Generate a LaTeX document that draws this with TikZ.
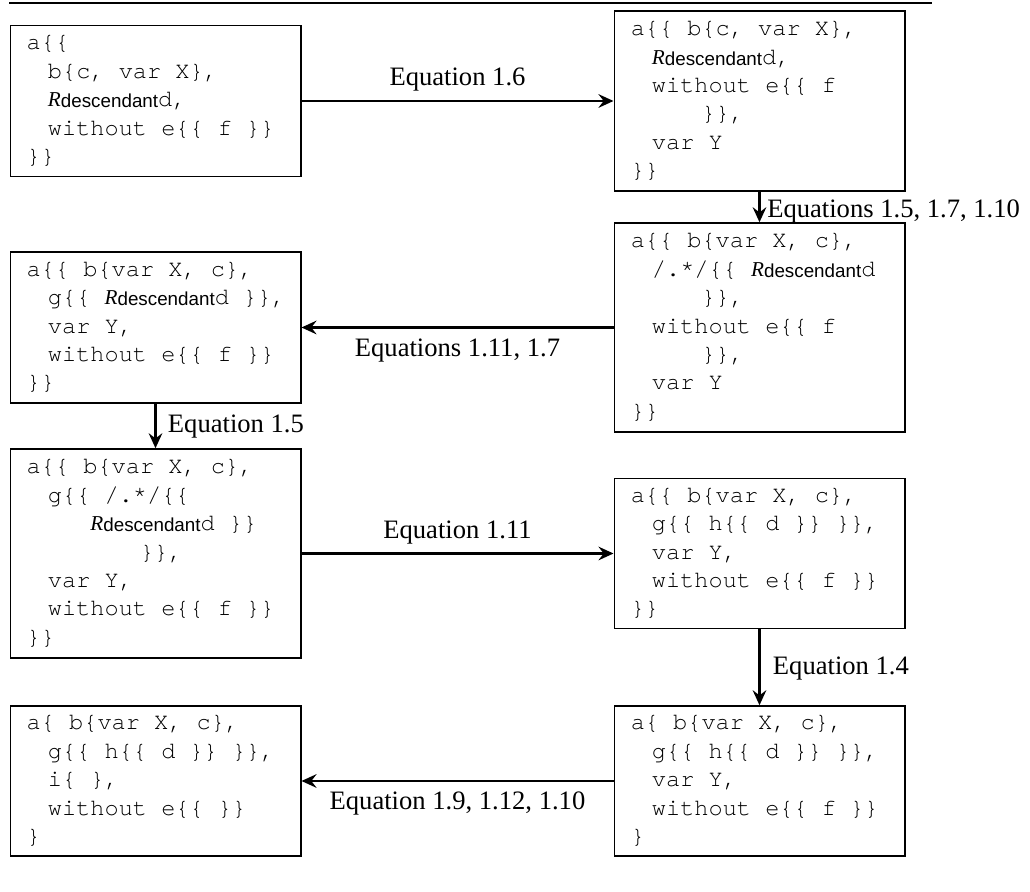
\documentclass[tikz,border=0pt]{standalone}
\usepackage{fontspec}
\setmainfont{Liberation Serif}
\setsansfont{Liberation Sans}
\newfontfamily\monof{TeX Gyre Cursor}
\usetikzlibrary{arrows.meta}
\newcommand{\Rd}{{\rmfamily\itshape\fontsize{10.6pt}{14.2pt}\selectfont R}{\sffamily\fontsize{9.4pt}{14.2pt}\selectfont\raisebox{-0.6pt}{descendant}}}
\newcommand{\ind}[1]{\hspace*{#1em}}
\newcommand{\spc}{\hspace*{0.6em}}
\tikzset{
  box/.style={draw, line width=0.75pt, minimum width=145.25pt, text width=128.75pt,
    inner xsep=8.25pt, inner ysep=0pt, align=left,
    font=\monof\fontsize{11.8pt}{14.2pt}\selectfont},
  arr/.style={line width=1.25pt, -{Stealth[length=7.5pt, width=6.8pt, inset=2.6pt]}},
  lab/.style={inner sep=0pt, font=\rmfamily\fontsize{13.3pt}{16pt}\selectfont},
}
\begin{document}
\begin{tikzpicture}[x=0.5pt, y=-0.5pt]
\useasboundingbox (0,0) rectangle (1030,892);
\draw[line width=0.9pt] (9,3) -- (932,3);

\node[box, minimum height=75.5pt] (b1) at (155.5,101) {a\{\{\\
\ind{0.9}b\{c,\spc var\spc X\},\\
\ind{0.9}\Rd d,\\
\ind{0.9}without\spc e\{\{\spc f\spc \}\}\\
\}\}};

\node[box, minimum height=90pt] (b2) at (759.5,101) {a\{\{\spc b\{c,\spc var\spc X\},\\
\ind{0.9}\Rd d,\\
\ind{0.9}without\spc e\{\{\spc f\\
\ind{3}\}\},\\
\ind{0.9}var\spc Y\\
\}\}};

\node[box, minimum height=104.5pt] (b3) at (759.5,327.5) {a\{\{\spc b\{var\spc X,\spc c\},\\
\ind{0.9}/.*/\{\{\spc \Rd d\\
\ind{3}\}\},\\
\ind{0.9}without\spc e\{\{\spc f\\
\ind{3}\}\},\\
\ind{0.9}var\spc Y\\
\}\}};

\node[box, minimum height=75.5pt] (b4) at (155.5,327.5) {a\{\{\spc b\{var\spc X,\spc c\},\\
\ind{0.9}g\{\{\spc \Rd d\spc \}\},\\
\ind{0.9}var\spc Y,\\
\ind{0.9}without\spc e\{\{\spc f\spc \}\}\\
\}\}};

\node[box, minimum height=104.5pt] (b5) at (155.5,553.5) {a\{\{\spc b\{var\spc X,\spc c\},\\
\ind{0.9}g\{\{\spc /.*/\{\{\\
\ind{2.7}\Rd d\spc \}\}\\
\ind{4.8}\}\},\\
\ind{0.9}var\spc Y,\\
\ind{0.9}without\spc e\{\{\spc f\spc \}\}\\
\}\}};

\node[box, minimum height=75pt] (b6) at (759.5,553.5) {a\{\{\spc b\{var\spc X,\spc c\},\\
\ind{0.9}g\{\{\spc h\{\{\spc d\spc \}\}\spc \}\},\\
\ind{0.9}var\spc Y,\\
\ind{0.9}without\spc e\{\{\spc f\spc \}\}\\
\}\}};

\node[box, minimum height=75pt] (b7) at (759.5,781) {a\{\spc b\{var\spc X,\spc c\},\\
\ind{0.9}g\{\{\spc h\{\{\spc d\spc \}\}\spc \}\},\\
\ind{0.9}var\spc Y,\\
\ind{0.9}without\spc e\{\{\spc f\spc \}\}\\
\}};

\node[box, minimum height=75pt] (b8) at (155.5,781) {a\{\spc b\{var\spc X,\spc c\},\\
\ind{0.9}g\{\{\spc h\{\{\spc d\spc \}\}\spc \}\},\\
\ind{0.9}i\{\spc \},\\
\ind{0.9}without\spc e\{\{\spc \}\}\\
\}};

\draw[arr] (b1) -- node[lab, anchor=base, yshift=7.5pt] {Equation 1.6} (b2);
\draw[arr] (b2) -- node[lab, anchor=base west, xshift=3.25pt, yshift=-5.5pt] {Equations 1.5, 1.7, 1.10} (b3);
\draw[arr] (b3) -- node[lab, anchor=base, yshift=-14.7pt] {Equations 1.11, 1.7} (b4);
\draw[arr] (b4) -- node[lab, anchor=base west, xshift=5.6pt, yshift=-3.5pt] {Equation 1.5} (b5);
\draw[arr] (b5) -- node[lab, anchor=base, yshift=7.5pt] {Equation 1.11} (b6);
\draw[arr] (b6) -- node[lab, anchor=base west, xshift=6.1pt, yshift=-3.4pt] {Equation 1.4} (b7);
\draw[arr] (b7) -- node[lab, anchor=base, yshift=-14.3pt] {Equation 1.9, 1.12, 1.10} (b8);
\end{tikzpicture}
\end{document}
